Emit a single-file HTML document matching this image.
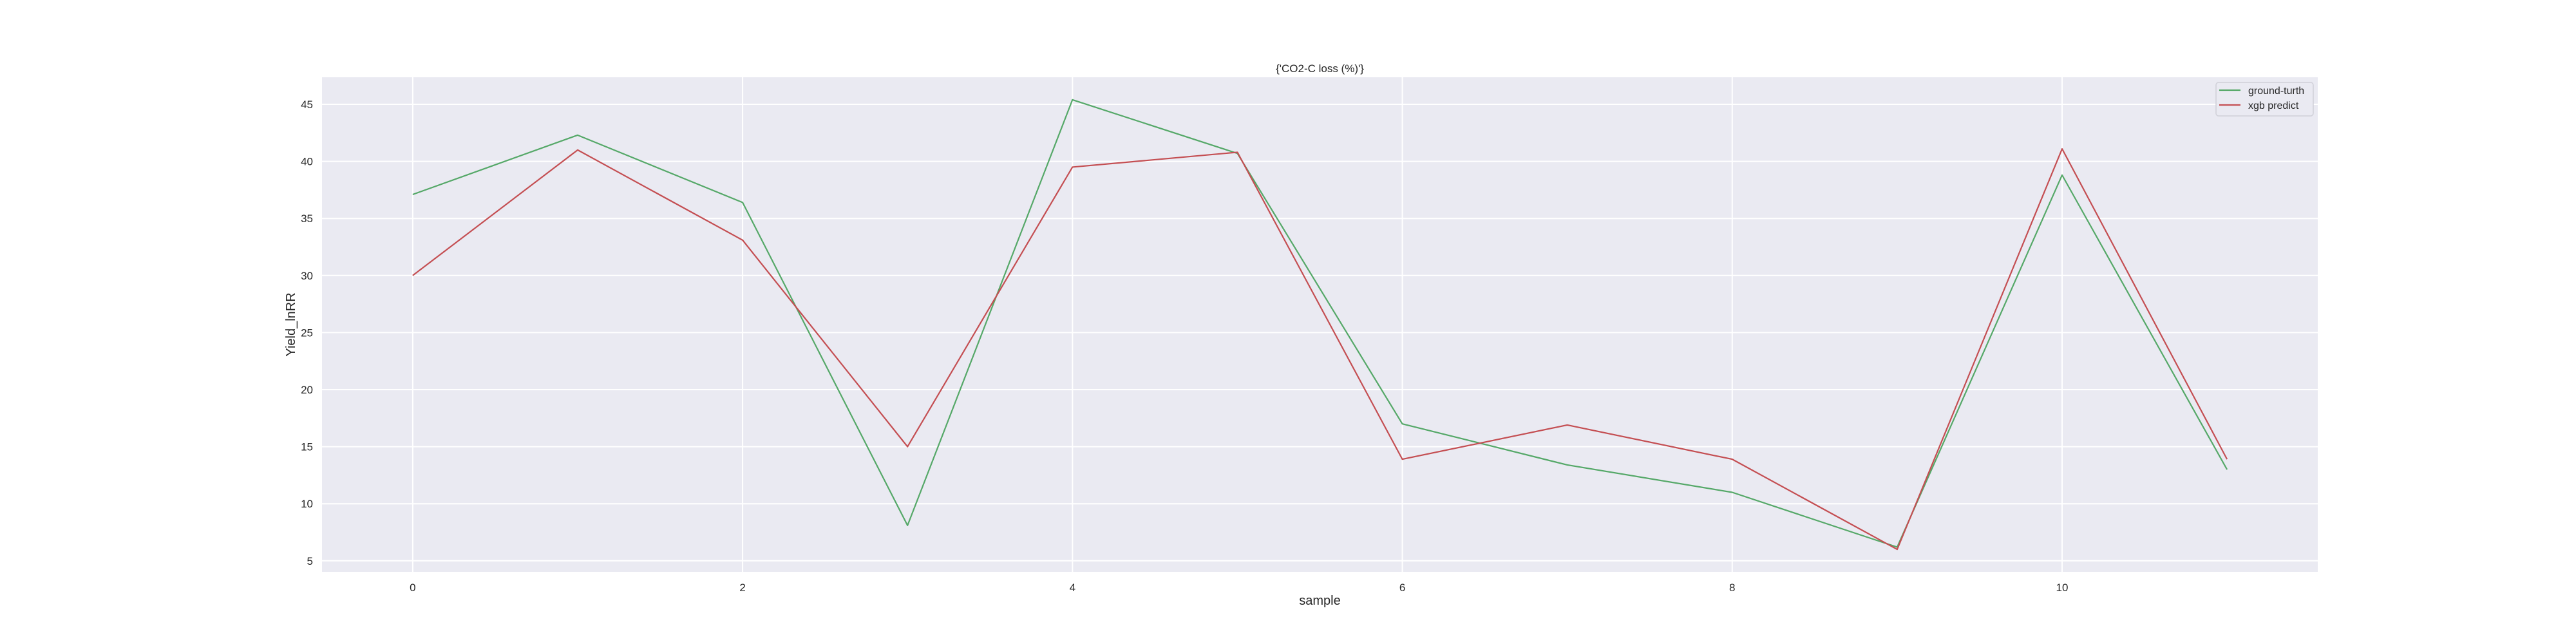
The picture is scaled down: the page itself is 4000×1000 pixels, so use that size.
<!DOCTYPE html>
<html><head><meta charset="utf-8"><style>
html,body{margin:0;padding:0;background:#fff;}
svg{display:block;font-family:"Liberation Sans","Noto Sans CJK SC",sans-serif;}
</style></head><body>
<svg id="chart" width="4000" height="1000" viewBox="0 0 4000 1000" xmlns="http://www.w3.org/2000/svg"></svg>
<script>
const categories = [0,1,2,3,4,5,6,7,8,9,10,11];
const groundTruth = [37.1,42.3,36.4,8.1,45.4,40.7,17.0,13.4,11.0,6.2,38.8,13.0];
const xgbPredict = [30.0,41.0,33.1,15.0,39.5,40.8,13.9,16.9,13.9,6.0,41.1,13.9];
const xTicks = [0,2,4,6,8,10];
const yTicks = [5,10,15,20,25,30,35,40,45];

const L=500,R=3599,T=120,B=888;
const xMin=-0.55,xMax=11.55,yMin=4.03,yMax=47.37;
const sx=v=>L+(v-xMin)/(xMax-xMin)*(R-L);
const sy=v=>B-(v-yMin)/(yMax-yMin)*(B-T);
const NS="http://www.w3.org/2000/svg";
const svg=document.getElementById('chart');
function mk(tag,attrs,parent){const e=document.createElementNS(NS,tag);for(const k in attrs)e.setAttribute(k,attrs[k]);(parent||svg).appendChild(e);return e;}

const bg=mk('rect',{x:L,y:T,width:R-L,height:B-T,fill:'#eaeaf2'});



const grid=mk('g',{});


xTicks.forEach(t=>{
  mk('line',{x1:sx(t),x2:sx(t),y1:T,y2:B,stroke:'#fff','stroke-width':2},grid);
  const tx=mk('text',{x:sx(t),y:B+30,'text-anchor':'middle','font-size':17,fill:'#262626'});
  tx.textContent=t;
  
  
});
yTicks.forEach(t=>{
  mk('line',{x1:L,x2:R,y1:sy(t),y2:sy(t),stroke:'#fff','stroke-width':2},grid);
  const tx=mk('text',{x:L-14,y:sy(t)+6,'text-anchor':'end','font-size':17,fill:'#262626'});
  tx.textContent=t;
  
  
});

function series(vals,color,name){
  const p=mk('polyline',{points:vals.map((v,i)=>sx(categories[i])+','+sy(v)).join(' '),fill:'none',stroke:color,'stroke-width':2.2,'stroke-linejoin':'round'});
  
  
}
series(groundTruth,'#55a868','ground-truth-line');
series(xgbPredict,'#c44e52','xgb-predict-line');

const title=mk('text',{x:(L+R)/2,y:112,'text-anchor':'middle','font-size':17,fill:'#262626'});
title.textContent="{'CO2-C loss (%)'}";



const xl=mk('text',{x:(L+R)/2,y:939,'text-anchor':'middle','font-size':20,fill:'#262626'});
xl.textContent='sample';



const yl=mk('text',{x:0,y:0,'text-anchor':'middle','font-size':20,fill:'#262626',transform:'translate(458,'+((T+B)/2)+') rotate(-90)'});
yl.textContent='Yield_lnRR';



const lg=mk('g',{});


mk('rect',{x:3441,y:128,width:151,height:52,rx:4,fill:'#eaeaf2',stroke:'#d0d0d8','stroke-width':1.5},lg);
const entries=[['ground-turth','#55a868',140],['xgb predict','#c44e52',163]];
entries.forEach(([lab,c,y])=>{
  mk('line',{x1:3446,x2:3479,y1:y,y2:y,stroke:c,'stroke-width':2.2},lg);
  const t=mk('text',{x:3491,y:y+6,'font-size':16,fill:'#262626'},lg);
  t.textContent=lab;
  
  
});
</script>
</body></html>
